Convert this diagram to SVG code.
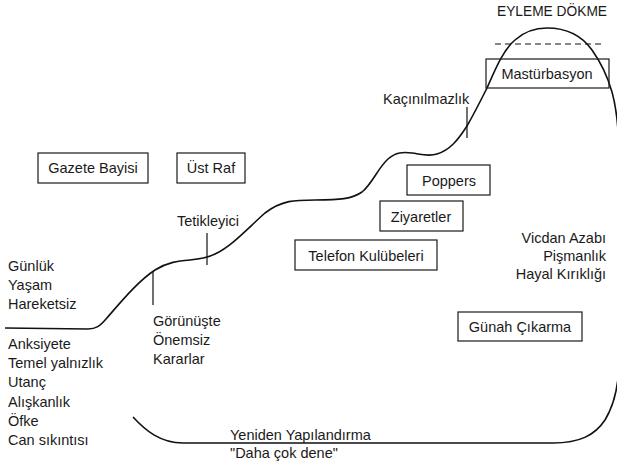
<svg xmlns="http://www.w3.org/2000/svg" width="617" height="465" viewBox="0 0 617 465">
<style>
text{font-family:"Liberation Sans",Arial,sans-serif;font-size:14.5px;fill:#1a1a1a}
.c{text-anchor:middle}
.e{text-anchor:end}
.box{fill:#fff;stroke:#1a1a1a;stroke-width:1.2}
.curve{fill:none;stroke:#111;stroke-width:1.6}
.tick{stroke:#111;stroke-width:1.2}
.dash{stroke:#111;stroke-width:1;stroke-dasharray:6,4}
</style>
<rect width="617" height="465" fill="#fff"/>
<g id="connectors">
<path class="curve" d="M 5 328 L 88 329 C 96 329 100 326 106 319 C 120 303 138 281 155 270 C 168 262 178 261 190 260 C 200 259 207 258 215 254 C 232 246 248 228 265 213 C 282 200 295 200 315 200 C 340 200 352 199 362 192 C 372 184 378 168 388 159 C 396 152 403 152 412 153 C 420 154 428 157 437 154 C 450 150 458 140 467 126 C 475 112 481 100 487 88 C 495 70 503 50 515 40 C 525 31 535 28 547 28 C 567 28 582 36 592 50 C 602 64 608 78 612 92 C 617 110 619 130 619 160 L 619 360 C 619 385 614 405 605 420 C 595 435 580 443 553 443 L 183 443 C 160 443 145 430 133 417"/>
<line class="dash" x1="495" y1="44" x2="602" y2="44"/>
<line class="tick" x1="153" y1="272" x2="153" y2="305"/>
<line class="tick" x1="207" y1="233" x2="207" y2="265"/>
<line class="tick" x1="467" y1="107" x2="467" y2="138"/>
</g>
<g id="eylem"><text x="497" y="16" textLength="110" lengthAdjust="spacingAndGlyphs">EYLEME DÖKME</text></g>
<g id="mastur"><rect class="box" x="486" y="59" width="123" height="29" fill-opacity="0"/><text class="c" x="547" y="79">Mastürbasyon</text></g>
<g id="kacinilmazlik"><text x="383" y="104">Kaçınılmazlık</text></g>
<g id="gazete"><rect class="box" x="38" y="153" width="110" height="30"/><text class="c" x="93" y="173">Gazete Bayisi</text></g>
<g id="ustraf"><rect class="box" x="177" y="153" width="68" height="30"/><text class="c" x="211" y="173">Üst Raf</text></g>
<g id="tetikleyici"><text x="177" y="226">Tetikleyici</text></g>
<g id="poppers"><rect class="box" x="407" y="165" width="83" height="30"/><text class="c" x="449" y="186">Poppers</text></g>
<g id="ziyaretler"><rect class="box" x="380" y="201" width="83" height="30"/><text class="c" x="421" y="222">Ziyaretler</text></g>
<g id="telefon"><rect class="box" x="295" y="240" width="142" height="30"/><text class="c" x="366" y="261">Telefon Kulübeleri</text></g>
<g id="gunah"><rect class="box" x="458" y="312" width="124" height="29"/><text class="c" x="520" y="332">Günah Çıkarma</text></g>
<g id="vicdan">
<text class="e" x="606" y="243">Vicdan Azabı</text>
<text class="e" x="606" y="261">Pişmanlık</text>
<text class="e" x="606" y="279">Hayal Kırıklığı</text>
</g>
<g id="gunluk">
<text x="8" y="271">Günlük</text>
<text x="8" y="290">Yaşam</text>
<text x="8" y="309">Hareketsiz</text>
</g>
<g id="gorunuste">
<text x="153" y="326">Görünüşte</text>
<text x="153" y="345">Önemsiz</text>
<text x="153" y="364">Kararlar</text>
</g>
<g id="anksiyete">
<text x="8" y="349">Anksiyete</text>
<text x="8" y="368">Temel yalnızlık</text>
<text x="8" y="387">Utanç</text>
<text x="8" y="407">Alışkanlık</text>
<text x="8" y="426">Öfke</text>
<text x="8" y="445">Can sıkıntısı</text>
</g>
<g id="yeniden">
<text x="230" y="440">Yeniden Yapılandırma</text>
<text x="230" y="458">"Daha çok dene"</text>
</g>
</svg>
